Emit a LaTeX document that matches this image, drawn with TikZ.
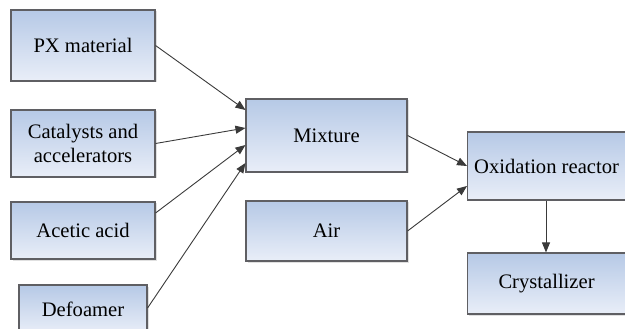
\documentclass[tikz,border=0pt]{standalone}
\usepackage{fontspec}
\setmainfont{Liberation Serif}
\newfontfamily\tnr{Liberation Serif}
\usetikzlibrary{arrows.meta,shadows}
\definecolor{boxtop}{HTML}{B6C9E6}
\definecolor{boxbot}{HTML}{E9EEF8}
\definecolor{boxline}{HTML}{5F5F63}
\definecolor{arrline}{HTML}{3A3A3A}
\tikzset{
  blk/.style={draw=boxline, line width=1.1pt, top color=boxtop, bottom color=boxbot,
    inner sep=0pt, align=center, font=\tnr\fontsize{20.6}{24}\selectfont,
    drop shadow={shadow xshift=1.5pt, shadow yshift=-1.5pt, fill=black!12, opacity=1}},
  conn/.style={draw=arrline, line width=0.9pt, -{Triangle[length=10pt,width=8pt]}}
}
\begin{document}
\begin{tikzpicture}[x=1pt,y=-1pt]
\useasboundingbox (0,0) rectangle (625,329);
\node[blk, minimum width=144pt, minimum height=71pt] (px) at (83,45.5) {PX material};
\node[blk, minimum width=144pt, minimum height=67pt] (cat) at (83,143.5) {Catalysts and\\accelerators};
\node[blk, minimum width=144pt, minimum height=57pt] (ace) at (83,230.5) {Acetic acid};
\node[blk, minimum width=128pt, minimum height=48pt] (def) at (83,309) {Defoamer};
\node[blk, minimum width=161pt, minimum height=73pt] (mix) at (326.5,135.5) {Mixture};
\node[blk, minimum width=161pt, minimum height=60pt] (air) at (326.5,231) {Air};
\node[blk, minimum width=160pt, minimum height=68pt, anchor=west] (oxi) at (467,166) {Oxidation reactor\hspace{2pt}};
\node[blk, minimum width=160pt, minimum height=61pt, anchor=west] (cry) at (467,283.5) {Crystallizer\hspace{2pt}};
\draw[conn] (px.east) -- (mix.west |- 0,110);
\draw[conn] (cat.east) -- (mix.west |- 0,128);
\draw[conn] (ace.east |- 0,213) -- (mix.west |- 0,145);
\draw[conn] (def.east |- 0,308) -- (mix.west |- 0,163);
\draw[conn] (mix.east) -- (oxi.west);
\draw[conn] (air.east) -- (oxi.west |- 0,186);
\draw[conn] (oxi.south -| 546,0) -- (cry.north -| 546,0);
\end{tikzpicture}
\end{document}
